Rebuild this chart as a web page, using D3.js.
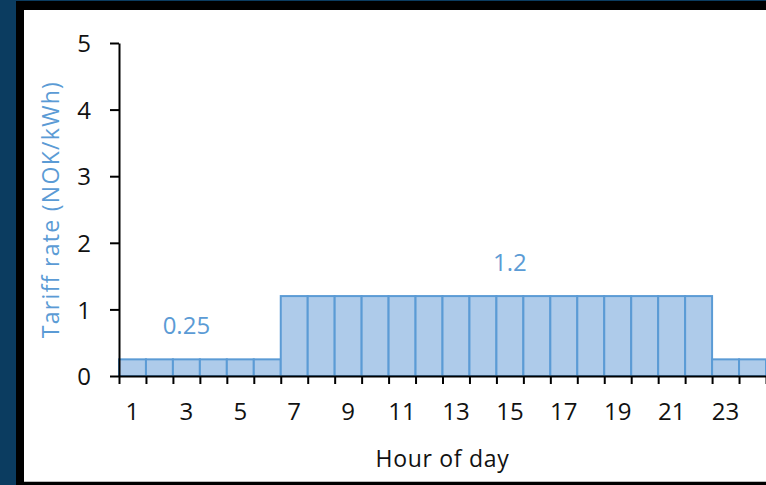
<!DOCTYPE html>
<html>
<head>
<meta charset="utf-8">
<script src="https://cdn.jsdelivr.net/npm/d3@7"></script>
<style>
  html, body { margin: 0; padding: 0; background: #0b3c60; }
  svg { display: block; }
  text { font-family: "Open Sans", sans-serif; }
</style>
</head>
<body>
<svg id="chart" width="766" height="485"></svg>
<script>
// ---- data ----
const hours = d3.range(1, 25);
const tariff = [0.25, 0.25, 0.25, 0.25, 0.25, 0.25,
                1.2, 1.2, 1.2, 1.2, 1.2, 1.2, 1.2, 1.2, 1.2, 1.2, 1.2, 1.2, 1.2, 1.2, 1.2, 1.2,
                0.25, 0.25];
const xTickLabels = [1, 3, 5, 7, 9, 11, 13, 15, 17, 19, 21, 23];
const yTicks = [0, 1, 2, 3, 4, 5];
const annotHours = [3, 15];
const annotValues = [0.25, 1.2];
const annotText = ["0.25", "1.2"];
const xTitle = "Hour of day";
const yTitle = "Tariff rate (NOK/kWh)";

const blue = "#5b9bd5";
const fill = "#aecbea";
const ink = "#111";

const svg = d3.select("#chart");

// frame
svg.append("rect").attr("x", 0).attr("y", 0).attr("width", 766).attr("height", 485).attr("fill", "#0b3c60");
svg.append("rect").attr("x", 16).attr("y", 1).attr("width", 760).attr("height", 490).attr("fill", "#000");
svg.append("rect").attr("x", 24).attr("y", 10).attr("width", 750).attr("height", 471).attr("fill", "#fff");
svg.append("line").attr("x1", 24).attr("x2", 766).attr("y1", 481.5).attr("y2", 481.5).attr("stroke", "#bbb").attr("stroke-width", 1);

const x0 = 119, x1 = 766, yBot = 376, yTop = 43;

const x = d3.scaleBand().domain(hours).range([x0, x1]).padding(0);
const xEdge = d3.scaleLinear().domain([0, 24]).range([x0, x1]);
const y = d3.scaleLinear().domain([0, 5]).range([yBot, yTop]);

// bars
svg.append("g").selectAll("rect").data(hours).join("rect")
  .attr("x", d => x(d))
  .attr("y", (d, i) => y(tariff[i]))
  .attr("width", x.bandwidth())
  .attr("height", (d, i) => y(0) - y(tariff[i]))
  .attr("fill", fill)
  .attr("stroke", blue)
  .attr("stroke-width", 2);

// annotations
svg.append("g").selectAll("text").data(annotHours).join("text")
  .attr("x", d => x(d) + x.bandwidth() / 2)
  .attr("y", (d, i) => y(annotValues[i]) - 25)
  .attr("text-anchor", "middle")
  .attr("fill", blue)
  .attr("font-size", 24)
  .text((d, i) => annotText[i]);

// y axis
const yAxis = svg.append("g").attr("transform", `translate(${x0},0)`)
  .call(d3.axisLeft(y).tickValues(yTicks).tickFormat(d3.format("d")).tickSize(9).tickPadding(19).tickSizeOuter(0));
yAxis.select(".domain").attr("stroke", "#000").attr("stroke-width", 2);
yAxis.selectAll(".tick line").attr("stroke", "#000").attr("stroke-width", 2);
yAxis.selectAll("text").attr("font-size", 24).attr("fill", ink).attr("font-family", "Open Sans").attr("dy", "0.36em");

// x axis tick marks at band edges
const xTickAxis = svg.append("g").attr("transform", `translate(0,${yBot})`)
  .call(d3.axisBottom(xEdge).tickValues(d3.range(0, 25)).tickSize(8).tickFormat("").tickSizeOuter(0));
xTickAxis.select(".domain").attr("stroke", "#000").attr("stroke-width", 2);
xTickAxis.selectAll(".tick line").attr("stroke", "#000").attr("stroke-width", 2);

// x axis labels at band centers
const xLabelAxis = svg.append("g").attr("transform", `translate(0,${yBot})`)
  .call(d3.axisBottom(x).tickValues(xTickLabels).tickSize(0).tickSizeOuter(0));
xLabelAxis.select(".domain").remove();
xLabelAxis.selectAll("text").attr("y", 44).attr("dy", 0)
  .attr("font-size", 24).attr("fill", ink).attr("font-family", "Open Sans");

// axis titles
svg.append("text")
  .attr("x", (x0 + x1) / 2)
  .attr("y", 467)
  .attr("text-anchor", "middle")
  .attr("font-size", 23)
  .attr("letter-spacing", 0.7)
  .attr("fill", ink)
  .text(xTitle);

svg.append("text")
  .attr("transform", `translate(59,${(yTop + yBot) / 2}) rotate(-90)`)
  .attr("text-anchor", "middle")
  .attr("font-size", 23)
  .attr("letter-spacing", 1.3)
  .attr("fill", blue)
  .text(yTitle);
</script>
</body>
</html>
